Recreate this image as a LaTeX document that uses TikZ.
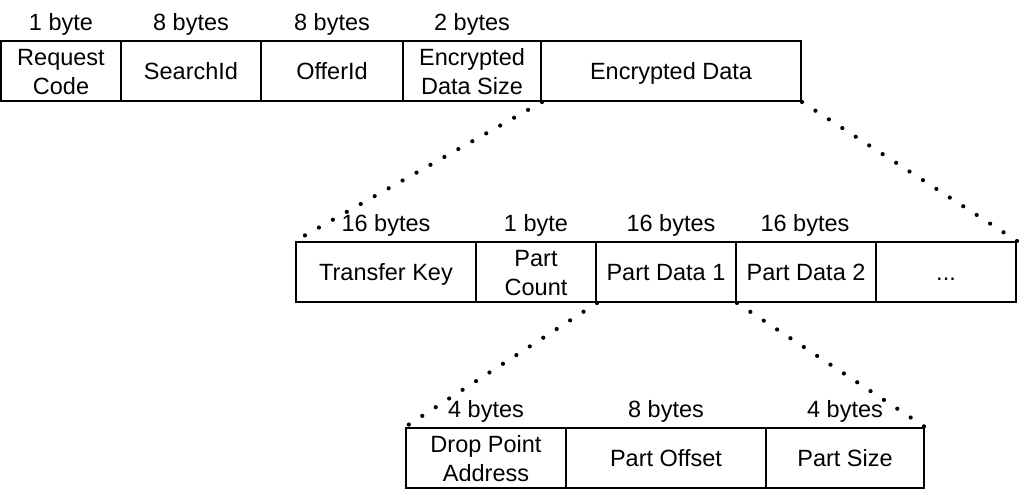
\documentclass[tikz,border=0pt]{standalone}
\usepackage{fontspec}
\setmainfont{Liberation Sans}
\begin{document}
\begin{tikzpicture}[x=1pt,y=-1pt,
  cell/.style={draw=black,line width=2pt,inner sep=0pt,minimum height=60pt,align=center,
    font=\fontsize{23.5}{29}\selectfont,text height=17pt,text depth=0pt},
  twoline/.style={text height=46pt,text depth=0pt},
  size/.style={anchor=base,inner sep=0pt,font=\fontsize{23.5}{29}\selectfont},
  zoomline/.style={line width=4.2pt,line cap=round,dash pattern=on 0pt off 16pt}]
\useasboundingbox (0,0) rectangle (1020,490);
% Row 1
\node[cell,twoline,minimum width=120pt] (req) at (61,71) {Request\\Code};
\node[cell,minimum width=140pt] (sid) at (191,71) {SearchId};
\node[cell,minimum width=142pt] (oid) at (332,71) {OfferId};
\node[cell,twoline,minimum width=138pt] (esz) at (472,71) {Encrypted\\Data Size};
\node[cell,minimum width=260pt] (edat) at (671,71) {Encrypted Data};
\node[size] (l1) at (61,30) {1 byte};
\node[size] (l2) at (191,30) {8 bytes};
\node[size] (l3) at (332,30) {8 bytes};
\node[size] (l4) at (472,30) {2 bytes};
% Row 2
\node[cell,minimum width=180pt] (tkey) at (386,272) {Transfer Key};
\node[cell,twoline,minimum width=120pt] (pcnt) at (536,272) {Part\\Count};
\node[cell,minimum width=140pt] (pd1) at (666,272) {Part Data 1};
\node[cell,minimum width=140pt] (pd2) at (806,272) {Part Data 2};
\node[cell,minimum width=140pt] (more) at (946,272) {...};
\node[size] (m1) at (386,231) {16 bytes};
\node[size] (m2) at (536,231) {1 byte};
\node[size] (m3) at (671,231) {16 bytes};
\node[size] (m4) at (805,231) {16 bytes};
% Row 3
\node[cell,twoline,minimum width=160pt] (dpa) at (486,458) {Drop Point\\Address};
\node[cell,minimum width=200pt] (poff) at (666,458) {Part Offset};
\node[cell,minimum width=158pt] (psz) at (845,458) {Part Size};
\node[size] (n1) at (486,417) {4 bytes};
\node[size] (n2) at (666,417) {8 bytes};
\node[size] (n3) at (845,417) {4 bytes};
% Zoom lines
\draw[zoomline] (esz.south east) -- (tkey.north west);
\draw[zoomline] (edat.south east) -- (more.north east);
\draw[zoomline] (pcnt.south east) -- (dpa.north west);
\draw[zoomline] (pd1.south east) -- (psz.north east);
\end{tikzpicture}
\end{document}
